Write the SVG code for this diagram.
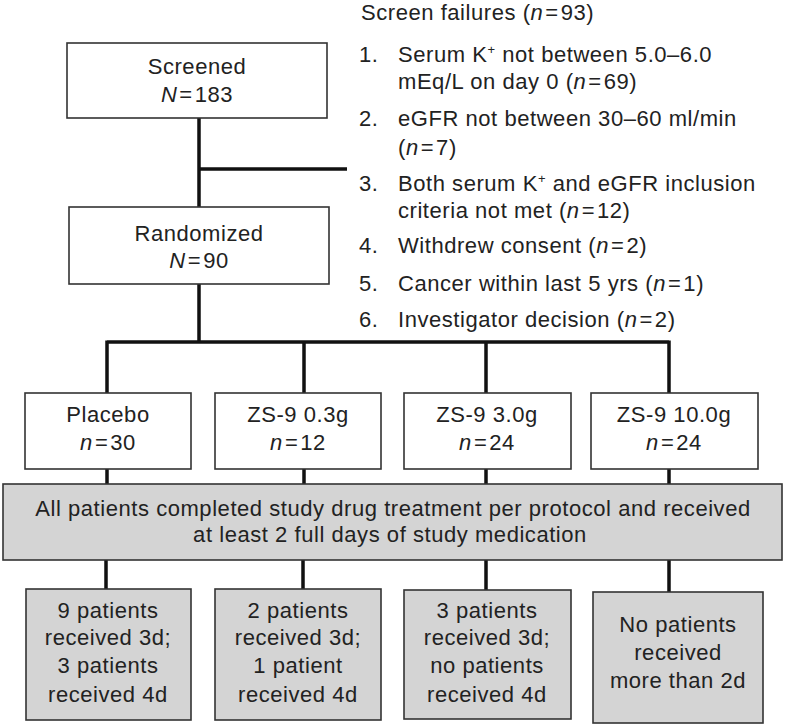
<svg xmlns="http://www.w3.org/2000/svg" width="785" height="725" viewBox="0 0 785 725">
<style>
text{font-family:"Liberation Sans",Arial,sans-serif;font-size:22px;fill:#222;letter-spacing:0.55px}
.c{text-anchor:middle}
.i{font-style:italic}
.box{fill:#fff;stroke:#333;stroke-width:1.6}
.grey{fill:#d4d4d4;stroke:#333;stroke-width:1.6}
.con{stroke:#111;stroke-width:3.5;fill:none}
.sup{font-size:13px}
</style>
<rect width="785" height="725" fill="#fff"/>
<g id="connectors">
<path class="con" d="M199 118V207M199 169H347M199 284V342M107 342H669M107 340.5V393M304 342V393M486 342V393M669 340.5V393"/>
<path class="con" d="M107 469V484M304 469V484M486 469V484M669 469V484"/>
<path class="con" d="M106 560V589M303 560V589M486 560V590M669 560V592"/>
</g>
<g id="screened">
<rect class="box" x="67" y="43" width="260" height="75"/>
<text class="c" x="197" y="74">Screened</text>
<text class="c" x="197" y="102"><tspan class="i">N</tspan><tspan dx="2">=</tspan><tspan dx="2">183</tspan></text>
</g>
<g id="randomized">
<rect class="box" x="69" y="207" width="260" height="77"/>
<text class="c" x="199" y="241">Randomized</text>
<text class="c" x="199" y="268"><tspan class="i">N</tspan><tspan dx="2">=</tspan><tspan dx="2">90</tspan></text>
</g>
<g id="failures">
<text x="361" y="20">Screen failures (<tspan class="i">n</tspan><tspan dx="2">=</tspan><tspan dx="2">93)</tspan></text>
<text x="359" y="62">1.</text>
<text x="398" y="62">Serum K<tspan class="sup" dy="-8">+</tspan><tspan dy="8"> not between 5.0–6.0</tspan></text>
<text x="398" y="89">mEq/L on day 0 (<tspan class="i">n</tspan><tspan dx="2">=</tspan><tspan dx="2">69)</tspan></text>
<text x="359" y="126">2.</text>
<text x="398" y="126">eGFR not between 30–60 ml/min</text>
<text x="398" y="155">(<tspan class="i">n</tspan><tspan dx="2">=</tspan><tspan dx="2">7)</tspan></text>
<text x="359" y="191">3.</text>
<text x="398" y="191">Both serum K<tspan class="sup" dy="-8">+</tspan><tspan dy="8"> and eGFR inclusion</tspan></text>
<text x="398" y="218">criteria not met (<tspan class="i">n</tspan><tspan dx="2">=</tspan><tspan dx="2">12)</tspan></text>
<text x="359" y="253">4.</text>
<text x="398" y="253">Withdrew consent (<tspan class="i">n</tspan><tspan dx="2">=</tspan><tspan dx="2">2)</tspan></text>
<text x="359" y="291">5.</text>
<text x="398" y="291">Cancer within last 5 yrs (<tspan class="i">n</tspan><tspan dx="2">=</tspan><tspan dx="2">1)</tspan></text>
<text x="359" y="327">6.</text>
<text x="398" y="327">Investigator decision (<tspan class="i">n</tspan><tspan dx="2">=</tspan><tspan dx="2">2)</tspan></text>
</g>
<g id="placebo">
<rect class="box" x="25" y="393" width="166" height="76"/>
<text class="c" x="108" y="422">Placebo</text>
<text class="c" x="108" y="450"><tspan class="i">n</tspan><tspan dx="2">=</tspan><tspan dx="2">30</tspan></text>
</g>
<g id="zs03">
<rect class="box" x="215" y="393" width="166" height="76"/>
<text class="c" x="298" y="422">ZS-9 0.3g</text>
<text class="c" x="298" y="450"><tspan class="i">n</tspan><tspan dx="2">=</tspan><tspan dx="2">12</tspan></text>
</g>
<g id="zs30">
<rect class="box" x="404" y="393" width="167" height="76"/>
<text class="c" x="487" y="422">ZS-9 3.0g</text>
<text class="c" x="487" y="450"><tspan class="i">n</tspan><tspan dx="2">=</tspan><tspan dx="2">24</tspan></text>
</g>
<g id="zs100">
<rect class="box" x="591" y="393" width="167" height="76"/>
<text class="c" x="674" y="422">ZS-9 10.0g</text>
<text class="c" x="674" y="450"><tspan class="i">n</tspan><tspan dx="2">=</tspan><tspan dx="2">24</tspan></text>
</g>
<g id="completed">
<rect class="grey" x="3" y="484" width="779" height="76"/>
<text class="c" x="393" y="516">All patients completed study drug treatment per protocol and received</text>
<text class="c" x="390" y="542">at least 2 full days of study medication</text>
</g>
<g id="out-placebo">
<rect class="grey" x="26" y="589" width="165" height="131"/>
<text class="c" x="108" y="618">9 patients</text>
<text class="c" x="108" y="645">received 3d;</text>
<text class="c" x="108" y="673">3 patients</text>
<text class="c" x="108" y="702">received 4d</text>
</g>
<g id="out-zs03">
<rect class="grey" x="215" y="589" width="166" height="131"/>
<text class="c" x="298" y="618">2 patients</text>
<text class="c" x="298" y="645">received 3d;</text>
<text class="c" x="298" y="673">1 patient</text>
<text class="c" x="298" y="702">received 4d</text>
</g>
<g id="out-zs30">
<rect class="grey" x="404" y="590" width="167" height="129"/>
<text class="c" x="487" y="618">3 patients</text>
<text class="c" x="487" y="645">received 3d;</text>
<text class="c" x="487" y="673">no patients</text>
<text class="c" x="487" y="702">received 4d</text>
</g>
<g id="out-zs100">
<rect class="grey" x="593" y="592" width="170" height="131"/>
<text class="c" x="678" y="632">No patients</text>
<text class="c" x="678" y="660">received</text>
<text class="c" x="678" y="688">more than 2d</text>
</g>
</svg>
